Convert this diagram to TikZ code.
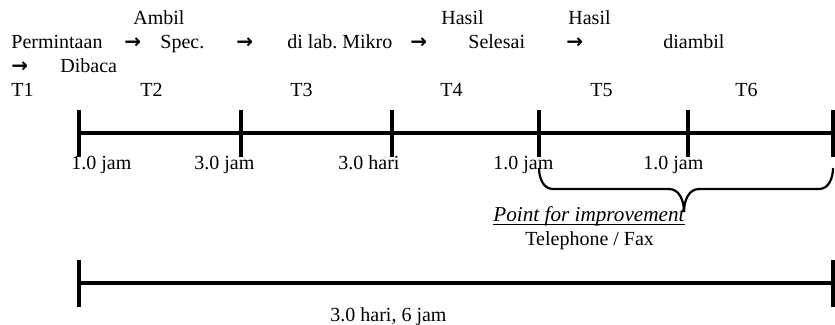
\documentclass[tikz,border=0pt]{standalone}
\usepackage{fontspec}
\setmainfont{Liberation Serif}
\newfontfamily\arrowfont{DejaVu Sans}
\begin{document}
\begin{tikzpicture}[x=0.5pt,y=-0.5pt,
  txt/.style={anchor=base west,inner sep=0pt,font=\fontsize{10}{12}\selectfont},
  arr/.style={anchor=base west,inner sep=0pt,font=\fontsize{10}{12}\arrowfont\bfseries},
  bar/.style={line width=2pt},
  tick/.style={line width=2pt},
  brace/.style={line width=1.1pt}]
\useasboundingbox (0,0) rectangle (835,325);

% process steps
\node[txt] (ambil)  at (133,25) {Ambil};
\node[txt] (hasil1) at (441,25) {Hasil};
\node[txt] (hasil2) at (568,25) {Hasil};
\node[txt] (perm)   at (11,49) {Permintaan};
\node[arr] (a1)     at (124,49) {→};
\node[txt] (spec)   at (160,49) {Spec.};
\node[arr] (a2)     at (236,49) {→};
\node[txt] (lab)    at (287,49) {di lab.\ Mikro};
\node[arr] (a3)     at (410,49) {→};
\node[txt] (sel)    at (468,49) {Selesai};
\node[arr] (a4)     at (566,49) {→};
\node[txt] (diamb)  at (663,49) {diambil};
\node[arr] (a5)     at (11,73) {→};
\node[txt] (dibaca) at (60,73) {Dibaca};

% interval names
\node[txt] (t1) at (11,97)  {T1};
\node[txt] (t2) at (140,97) {T2};
\node[txt] (t3) at (290,97) {T3};
\node[txt] (t4) at (440,97) {T4};
\node[txt] (t5) at (590,97) {T5};
\node[txt] (t6) at (735,97) {T6};

% upper time line
\coordinate (p0) at (79,133);
\coordinate (p1) at (241,133);
\coordinate (p2) at (392,133);
\coordinate (p3) at (539,133);
\coordinate (p4) at (688,133);
\coordinate (p5) at (833,133);
\draw[bar] (p0) -- (p5);
\foreach \p in {p0,p1,p2,p3,p4,p5}
  \draw[tick] ([yshift=11.5pt]\p) -- ([yshift=-12pt]\p);

% durations
\node[txt] (d1) at (71,170)  {1.0 jam};
\node[txt] (d2) at (194,170) {3.0 jam};
\node[txt] (d3) at (338,170) {3.0 hari};
\node[txt] (d4) at (493,170) {1.0 jam};
\node[txt] (d5) at (643,170) {1.0 jam};

% brace over the last two intervals
\coordinate (bl) at (539,168);
\coordinate (br) at (833,168);
\coordinate (bt) at (684,212);
\draw[brace] (bl) to[out=-90,in=180] (553,189) -- (669,189)
  to[out=0,in=90] (bt);
\draw[brace] (br) to[out=-90,in=0] (819,189) -- (699,189)
  to[out=180,in=90] (bt);

\node[txt,font=\fontsize{10.6}{12}\selectfont\itshape] (imp) at (493,222) {Point for improvement};
\draw[line width=0.5pt] ([yshift=-1.2pt]imp.base west) -- ([yshift=-1.2pt]imp.base east);
\node[txt] (tel) at (525,246) {Telephone / Fax};

% lower time line, total
\coordinate (q0) at (79,283);
\coordinate (q1) at (833,283);
\draw[bar] (q0) -- (q1);
\draw[tick] ([yshift=11.5pt]q0) -- ([yshift=-12pt]q0);
\draw[tick] ([yshift=11.5pt]q1) -- ([yshift=-12pt]q1);
\node[txt] (tot) at (330,322) {3.0 hari, 6 jam};
\end{tikzpicture}
\end{document}
